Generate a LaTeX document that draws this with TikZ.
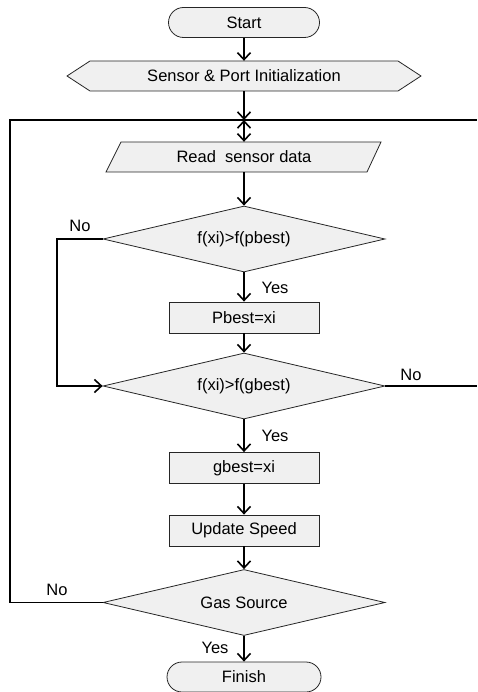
\documentclass[tikz,border=0pt]{standalone}
\usepackage{fontspec}
\setmainfont{Liberation Sans}
\usetikzlibrary{arrows.meta,shapes.geometric}
\begin{document}
\begin{tikzpicture}[x=1pt,y=-1pt,
  font=\fontsize{16.5}{19}\selectfont,
  shapeline/.style={draw=black!85,line width=0.8pt,fill=gray!12},
  box/.style={shapeline,minimum width=150pt,minimum height=31pt,inner sep=0pt},
  term/.style={box,rounded corners=15pt,minimum height=30pt},
  dec/.style={diamond,shapeline,aspect=4.27,minimum width=282pt,minimum height=66pt,inner sep=0pt},
  plain/.style={inner sep=0pt},
  tip/.style={Straight Barb[length=7pt,width=13pt]},
  line/.style={line width=1.6pt},
  conn/.style={line,-{Straight Barb[length=7pt,width=13pt]}},
  lbl/.style={inner sep=0pt}]
\useasboundingbox (0,0) rectangle (477,692);

% shapes
\node[term,minimum width=151pt] (start) at (244,22.5) {Start};
\draw[shapeline] (67,76) -- (90,61) -- (398,61) -- (421,76) -- (398,91) -- (90,91) -- cycle;
\node[plain,minimum width=354pt,minimum height=30pt] (init) at (244,76) {Sensor \& Port Initialization};
\coordinate (j) at (244,120);
\draw[shapeline] (121,142) -- (381,142) -- (367,172) -- (106,172) -- cycle;
\node[plain,minimum width=260pt,minimum height=30pt] (read) at (244,157) {Read\ \ sensor data};
\node[dec] (d1) at (244,239) {f(xi)>f(pbest)};
\node[box] (pb) at (244,317.5) {Pbest=xi};
\node[dec] (d2) at (244,386) {f(xi)>f(gbest)};
\node[box] (gb) at (244,468) {gbest=xi};
\node[box] (us) at (244,530.5) {Update Speed};
\node[dec] (d3) at (244,602.5) {Gas Source};
\node[term,minimum width=154pt] (fin) at (244,677) {Finish};

% labels
\node[lbl] (no1) at (80,226) {No};
\node[lbl] (yes1) at (275,288) {Yes};
\node[lbl] (no2) at (411,375) {No};
\node[lbl] (yes2) at (275,436) {Yes};
\node[lbl] (no3) at (57,590) {No};
\node[lbl] (yes3) at (215,648) {Yes};

% free ends
\coordinate (l1) at (57,239);
\coordinate (lc) at (10,120);
\coordinate (rtop) at (477,120);
\coordinate (r2) at (477,386);

% connectors
\draw[conn] (start) -- (init);
\draw[conn] (init) -- (j);
\draw[line,{Straight Barb[length=7pt,width=13pt]}-{Straight Barb[length=7pt,width=13pt]}] (j) -- (read);
\draw[line] (j) -- (rtop);
\draw[line] (d3.west) -| (lc) -- (j);
\draw[conn] (read) -- (d1);
\draw[conn] (d1) -- (pb);
\draw[conn] (pb) -- (d2);
\draw[conn] (d1.west) -- (l1) |- (d2.west);
\draw[line] (d2.east) -- (r2);
\draw[conn] (d2) -- (gb);
\draw[conn] (gb) -- (us);
\draw[conn] (us) -- (d3);
\draw[conn] (d3) -- (fin);
\end{tikzpicture}
\end{document}
